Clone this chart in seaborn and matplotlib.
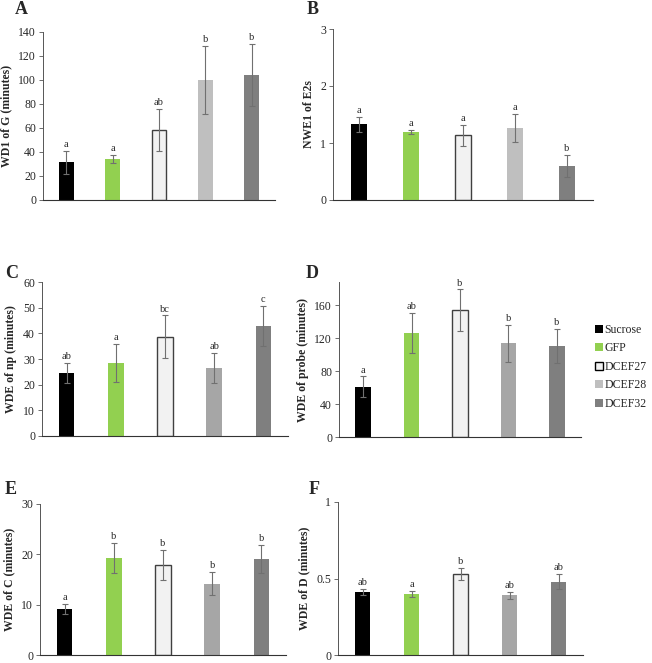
# %%
# ==========================================
# IMPORTING LIBRARIES
# ==========================================
import numpy as np
import pandas as pd
import matplotlib
matplotlib.use("Agg")
import matplotlib.pyplot as plt
import seaborn as sns
from matplotlib.lines import Line2D

sns.set_style("white")
plt.rcParams['font.family'] = ['Liberation Serif', 'DejaVu Serif']

# %%
# ==========================================
# DATA
# ==========================================
groups = ['Sucrose', 'GFP', 'DCEF27', 'DCEF28', 'DCEF32']

wd1_g = [31.5, 34, 58.5, 100, 104]
wd1_g_err = [9.5, 3.5, 17.5, 28.5, 26]
wd1_g_sig = ['a', 'a', 'ab', 'b', 'b']

nwe1_e2s = [1.33, 1.195, 1.135, 1.265, 0.6]
nwe1_e2s_err = [0.13, 0.035, 0.18, 0.24, 0.19]
nwe1_e2s_sig = ['a', 'a', 'a', 'a', 'b']

wde_np = [24.5, 28.5, 38.7, 26.5, 42.8]
wde_np_err = [4.0, 7.5, 8.3, 5.8, 7.8]
wde_np_sig = ['ab', 'a', 'bc', 'ab', 'c']

wde_probe = [61, 126, 154, 113.5, 110.5]
wde_probe_err = [12.5, 24, 25, 22, 20.5]
wde_probe_sig = ['a', 'ab', 'b', 'b', 'b']

wde_c = [9.1, 19.3, 17.9, 14.2, 19.1]
wde_c_err = [1.0, 3.0, 2.9, 2.3, 2.8]
wde_c_sig = ['a', 'b', 'b', 'b', 'b']

wde_d = [0.41, 0.40, 0.53, 0.39, 0.48]
wde_d_err = [0.02, 0.02, 0.04, 0.023, 0.05]
wde_d_sig = ['ab', 'a', 'b', 'ab', 'ab']

colors_top = ['#000000', '#92d050', '#f2f2f2', '#bfbfbf', '#7f7f7f']
colors_low = ['#000000', '#92d050', '#f2f2f2', '#a6a6a6', '#7f7f7f']

# %%
# ==========================================
# PANEL SPECS: values, labels, axis setup, pixel box (left, top, right, bottom),
# panel letter position (x, top) in pixels
# ==========================================
W, H = 652, 663
panels = [
    ('A', wd1_g, wd1_g_err, wd1_g_sig, 'WD1 of G (minutes)', (0, 140), np.arange(0, 141, 20), colors_top, (43, 32, 275, 200), (15, 1)),
    ('B', nwe1_e2s, nwe1_e2s_err, nwe1_e2s_sig, 'NWE1 of E2s', (0, 3), np.arange(0, 4, 1), colors_top, (333, 29, 593, 200), (307, 1)),
    ('C', wde_np, wde_np_err, wde_np_sig, 'WDE of np (minutes)', (0, 60), np.arange(0, 61, 10), colors_low, (42, 282, 288, 436), (5, 265)),
    ('D', wde_probe, wde_probe_err, wde_probe_sig, 'WDE of probe (minutes)', (0, 188), np.arange(0, 161, 40), colors_low, (339, 282, 581, 437), (306, 265)),
    ('E', wde_c, wde_c_err, wde_c_sig, 'WDE of C (minutes)', (0, 30), np.arange(0, 31, 10), colors_low, (40, 504, 286, 655), (5, 481)),
    ('F', wde_d, wde_d_err, wde_d_sig, 'WDE of D (minutes)', (0, 1), [0, 0.5, 1], colors_low, (338, 502, 583, 655), (309, 481)),
]

fig = plt.figure(figsize=(6.52, 6.63), dpi=100)

for letter, vals, errs, sig, ylab, ylim, yticks, cols, box, lpos in panels:
    l, t, r, b = box
    ax = fig.add_axes([l / W, 1 - b / H, (r - l) / W, (b - t) / H])
    df = pd.DataFrame({'group': groups, 'value': vals})
    sns.barplot(data=df, x='group', y='value', hue='group', palette=cols,
                width=0.32, errorbar=None, legend=False, ax=ax, saturation=1,
                edgecolor='none', linewidth=0)
    # outline for the DCEF27 bar
    ax.patches[2].set_edgecolor('#404040')
    ax.patches[2].set_linewidth(1.0)

    x = np.arange(len(groups))
    ax.errorbar(x, vals, yerr=errs, fmt='none', ecolor='#707070',
                elinewidth=0.8, capsize=2.5, capthick=0.8)
    span = ylim[1] - ylim[0]
    for xi, v, e, s in zip(x, vals, errs, sig):
        ax.text(xi, v + e + span * 0.012, s, ha='center', va='bottom', fontsize=7.5)

    ax.set_xlim(-0.5, len(groups) - 0.5)
    ax.set_ylim(*ylim)
    ax.set_yticks(yticks)
    ax.set_yticklabels([f'{v:g}' for v in yticks], fontsize=8.5)
    ax.set_xticks([])
    ax.set_xlabel('')
    ax.set_ylabel(ylab, fontsize=8.5, fontweight='bold', labelpad=4)
    ax.tick_params(axis='y', length=3, width=0.6, color='#555555', pad=2, left=True)
    sns.despine(ax=ax)
    ax.spines['left'].set_color('#555555')
    ax.spines['left'].set_linewidth(0.7)
    ax.spines['bottom'].set_color('#333333')
    ax.spines['bottom'].set_linewidth(0.8)

    # panel letter
    fig.text(lpos[0] / W, 1 - lpos[1] / H, letter,
             fontsize=13, fontweight='bold', va='top', ha='left')

# legend on the right
handles = [Line2D([], [], marker='s', linestyle='none', markersize=5.5,
                  markerfacecolor=c, markeredgecolor=('#000000' if g == 'DCEF27' else c),
                  markeredgewidth=1.0 if g == 'DCEF27' else 0)
           for g, c in zip(groups, colors_top)]
fig.legend(handles, groups, loc='upper left', bbox_to_anchor=(595 / W, 1 - 324 / H),
           frameon=False, fontsize=8.5, handlelength=0.6, handletextpad=0.2,
           labelspacing=0.55, borderpad=0, borderaxespad=0)

plt.savefig('out.png', dpi=100)
